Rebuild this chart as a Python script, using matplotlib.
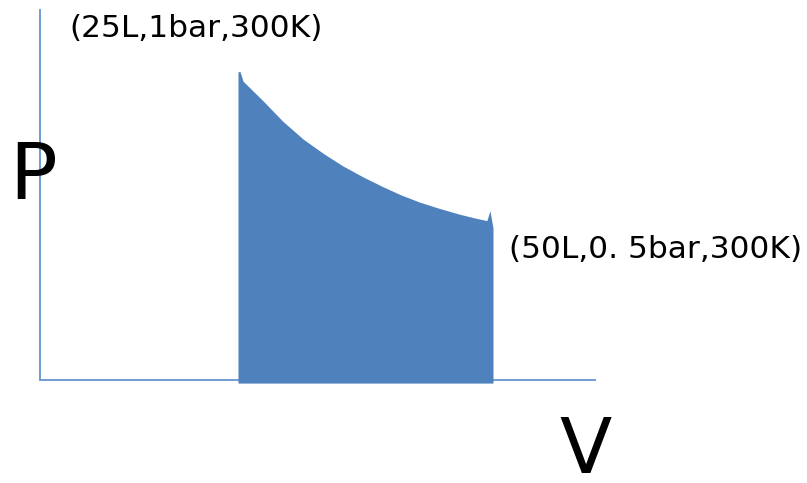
import matplotlib
matplotlib.use("Agg")
import matplotlib.pyplot as plt

# Data (isothermal expansion, V in L, P in bar)
V_curve = [25.0, 25.2, 25.5, 27.5, 29.4, 31.4, 33.4, 35.3, 37.3, 39.2,
           41.0, 42.8, 44.8, 46.8, 48.4, 49.4, 49.7, 50.0]
P_curve = [1.0, 1.0, 0.969, 0.904, 0.839, 0.781, 0.734, 0.694, 0.658, 0.627,
           0.600, 0.577, 0.556, 0.537, 0.524, 0.517, 0.549, 0.494]
state1_label = "(25L,1bar,300K)"
state2_label = "(50L,0. 5bar,300K)"
x_label = "V"
y_label = "P"

W, H = 807, 483
fig = plt.figure(figsize=(W / 100, H / 100), dpi=100)

# axes: y-axis line at x=40 px, x-axis line at y=380 px, top 10 px, right 595 px
ax = fig.add_axes([40 / W, (H - 380) / H, (595 - 40) / W, (380 - 10) / H])
ax.set_xlim(5.59, 60.0)
ax.set_ylim(0, 1.2)
axis_color = "#6F9CD3"
for s in ["top", "right"]:
    ax.spines[s].set_visible(False)
for s in ["left", "bottom"]:
    ax.spines[s].set_color(axis_color)
    ax.spines[s].set_linewidth(1.4)
ax.set_xticks([])
ax.set_yticks([])
ax.patch.set_alpha(0)

fill_color = "#4F81BD"
ax.fill_between(V_curve, [-0.01] * len(V_curve), P_curve, color=fill_color,
                lw=0, clip_on=False, zorder=3)

fs = 22.5
fig.text(69 / W, 1 - 37 / H, state1_label, fontsize=fs, ha="left", va="baseline",
         family="DejaVu Sans", color="#000000")
fig.text(802 / W, 1 - 258 / H, state2_label, fontsize=fs, ha="right", va="baseline",
         family="DejaVu Sans", color="#000000")
fig.text(33 / W, 1 - 199 / H, y_label, fontsize=57, ha="center", va="baseline",
         family="DejaVu Sans", color="#000000", zorder=0)
fig.text(586 / W, 1 - 473 / H, x_label, fontsize=55, ha="center", va="baseline",
         family="DejaVu Sans", color="#000000")

fig.savefig("out.png", dpi=100)
